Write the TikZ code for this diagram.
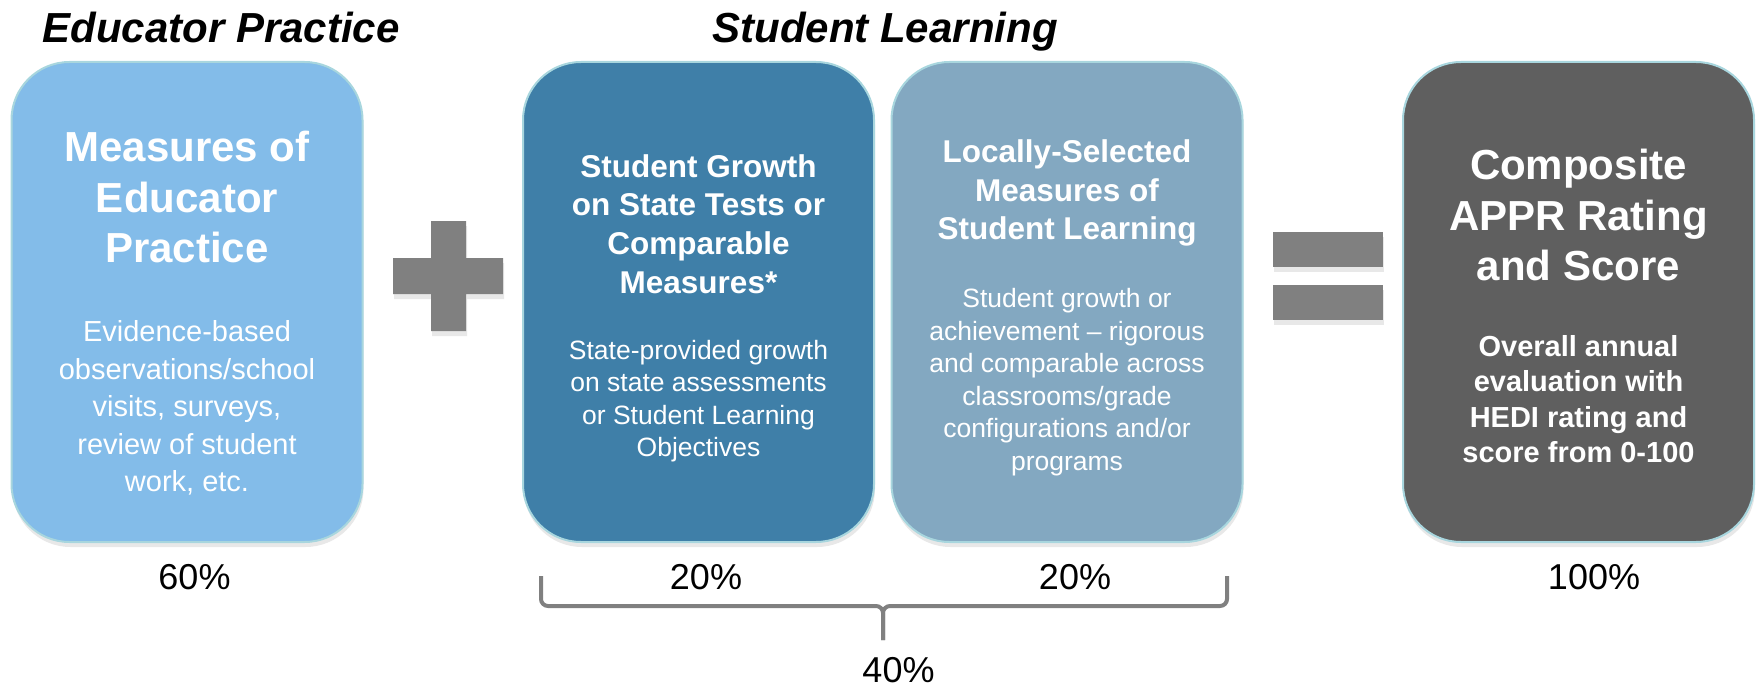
\documentclass[tikz,border=0pt]{standalone}
\usepackage{fontspec}
\setmainfont{Liberation Sans}
\usetikzlibrary{shadows}
\definecolor{practice}{HTML}{83BCE9}
\definecolor{growth}{HTML}{3F7FA8}
\definecolor{local}{HTML}{83A8C1}
\definecolor{composite}{HTML}{5F5F5F}
\definecolor{rim}{HTML}{A8D6DE}
\definecolor{sign}{HTML}{808080}

\begin{document}
\begin{tikzpicture}[x=1pt,y=-1pt,
    shade/.style={drop shadow={opacity=0.18,shadow xshift=1pt,shadow yshift=-5pt}},
    box/.style={rectangle,rounded corners=58pt,draw=rim,line width=2pt,minimum width=351pt,minimum height=480pt,inner sep=0pt,shade},
    group/.style={font=\fontsize{42}{50}\selectfont\bfseries\itshape,anchor=base},
    big/.style={text=white,align=center,inner sep=0pt,font=\fontsize{42}{50.5}\selectfont\bfseries},
    mid/.style={text=white,align=center,inner sep=0pt,font=\fontsize{31.5}{38.8}\selectfont\bfseries},
    small/.style={text=white,align=center,inner sep=0pt,font=\fontsize{26.5}{32.5}\selectfont},
    note/.style={text=white,align=center,inner sep=0pt,font=\fontsize{29}{37.5}\selectfont},
    pct/.style={font=\fontsize{36}{43}\selectfont,anchor=base,inner sep=0pt},
    brace/.style={draw=sign,line width=4pt,rounded corners=7pt}]
    \useasboundingbox (0,0) rectangle (1758,687);

    % group headings
    \node[group] (hp) at (221,43) {Educator Practice};
    \node[group] (hs) at (885,43) {Student Learning};

    % the four boxes
    \node[box,fill=practice] (b1) at (187,302) {};
    \node[box,fill=growth] (b2) at (698.5,302) {};
    \node[box,fill=local] (b3) at (1067,302) {};
    \node[box,fill=composite] (b4) at (1578.5,302) {};

    \node[big] (t1) at (187,197) {Measures of\\Educator\\Practice};
    \node[note] (d1) at (187,408) {Evidence-based\\observations/school\\visits, surveys,\\review of student\\work, etc.};

    \node[mid] (t2) at (698.5,224) {Student Growth\\on State Tests or\\Comparable\\Measures*};
    \node[small] (d2) at (698.5,401) {State-provided growth\\on state assessments\\or Student Learning\\Objectives};

    \node[mid] (t3) at (1067,193) {Locally-Selected\\Measures of\\Student Learning};
    \node[small] (d3) at (1067,382) {Student growth or\\achievement – rigorous\\and comparable across\\classrooms/grade\\configurations and/or\\programs};

    \node[big] (t4) at (1578.5,215) {Composite\\APPR Rating\\and Score};
    \node[note,font=\fontsize{29}{35.5}\selectfont\bfseries] (d4) at (1578.5,399) {Overall annual\\evaluation with\\HEDI rating and\\score from 0-100};

    % plus and equals
    \fill[sign,shade] (393,258) -- (431,258) -- (431,221) -- (466,221) -- (466,258) -- (503,258)
        -- (503,294) -- (466,294) -- (466,331) -- (431,331) -- (431,294) -- (393,294) -- cycle;
    \foreach \y in {232,285}
        \fill[sign,shade] (1273,\y) rectangle ++(110,35);

    % weights
    \node[pct] (p1) at (194.5,589) {60\%};
    \node[pct] (p2) at (706,589) {20\%};
    \node[pct] (p3) at (1075,589) {20\%};
    \node[pct] (p4) at (1594,589) {100\%};

    \coordinate (bl) at (541,576);
    \coordinate (br) at (1227,576);
    \coordinate (tip) at (883,640);
    \draw[brace] (bl) -- ++(0,30) -| (tip);
    \draw[brace] (br) -- ++(0,30) -| (tip);
    \node[pct] (p5) at (898.5,682) {40\%};
\end{tikzpicture}
\end{document}
